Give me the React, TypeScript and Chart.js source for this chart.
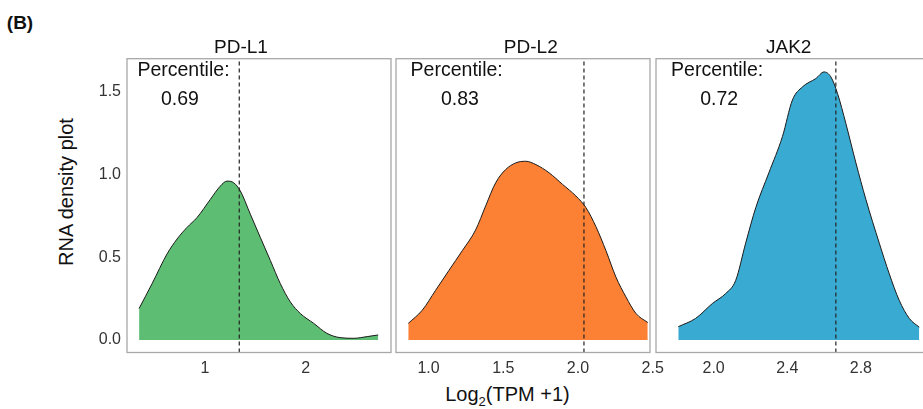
import React, { useEffect, useRef } from 'react';
import { Chart, registerables } from 'chart.js';

Chart.register(...registerables);

// ---------- data ----------
const panelTitles = ['PD-L1', 'PD-L2', 'JAK2'];
const percentileLabel = 'Percentile:';
const percentileValues = ['0.69', '0.83', '0.72'];
const cutoffs = [1.34, 2.04, 2.664];

const pdl1X = [0.345, 0.474, 0.623, 0.722, 0.821, 0.921, 1.053, 1.152, 1.218, 1.285, 1.351, 1.45, 1.549, 1.649, 1.748, 1.847, 1.946, 2.08, 2.21, 2.34, 2.48, 2.61, 2.72];
const pdl1Y = [0.19, 0.34, 0.52, 0.61, 0.68, 0.74, 0.85, 0.93, 0.96, 0.95, 0.9, 0.76, 0.62, 0.48, 0.34, 0.23, 0.16, 0.1, 0.04, 0.014, 0.01, 0.02, 0.03];

const pdl2X = [0.864, 0.958, 1.047, 1.136, 1.226, 1.315, 1.382, 1.449, 1.516, 1.583, 1.65, 1.718, 1.807, 1.897, 1.986, 2.053, 2.12, 2.187, 2.254, 2.321, 2.388, 2.467];
const pdl2Y = [0.1, 0.18, 0.3, 0.42, 0.54, 0.665, 0.81, 0.95, 1.03, 1.07, 1.08, 1.06, 1.01, 0.94, 0.87, 0.8, 0.685, 0.54, 0.38, 0.26, 0.16, 0.105];

const jak2X = [1.808, 1.902, 1.993, 2.065, 2.12, 2.174, 2.229, 2.3, 2.374, 2.428, 2.483, 2.555, 2.6, 2.637, 2.673, 2.718, 2.773, 2.827, 2.9, 2.954, 3.008, 3.063, 3.117];
const jak2Y = [0.08, 0.13, 0.22, 0.28, 0.36, 0.585, 0.8, 1.01, 1.23, 1.45, 1.53, 1.58, 1.62, 1.59, 1.49, 1.31, 1.07, 0.85, 0.585, 0.4, 0.24, 0.13, 0.077];

const yTicks = [0, 0.5, 1.0, 1.5];
const pdl1Ticks = [1, 2];
const pdl1TickLabels = ['1', '2'];
const pdl2Ticks = [1.0, 1.5, 2.0, 2.5];
const pdl2TickLabels = ['1.0', '1.5', '2.0', '2.5'];
const jak2Ticks = [2.0, 2.4, 2.8];
const jak2TickLabels = ['2.0', '2.4', '2.8'];

const yAxisTitle = 'RNA density plot';
const panelTag = '(B)';

// ---------- layout / style ----------
const FONT = '"Liberation Sans", Arial, Helvetica, sans-serif';
const Y_MIN = -0.076;
const Y_MAX = 1.7;
const BOX_TOP = 58.7;
const BOX_BOTTOM = 352.5;
const CANVAS_H = 385;
const TITLE_Y = 47.5;

const panels = [
  {
    xs: pdl1X, ys: pdl1Y, ticks: pdl1Ticks, tickLabels: pdl1TickLabels,
    boxLeft: 127, boxRight: 391, xMin: 0.225, xMax: 2.847, showY: true,
    color: '#5dbe73', titleX: 1.357, labelX: 0.786, valueX: 0.75,
  },
  {
    xs: pdl2X, ys: pdl2Y, ticks: pdl2Ticks, tickLabels: pdl2TickLabels,
    boxLeft: 395.5, boxRight: 649, xMin: 0.782, xMax: 2.482, showY: false,
    color: '#fc8134', titleX: 1.684, labelX: 1.188, valueX: 1.21,
  },
  {
    xs: jak2X, ys: jak2Y, ticks: jak2Ticks, tickLabels: jak2TickLabels,
    boxLeft: 655.5, boxRight: 928, xMin: 1.687, xMax: 3.17, showY: false,
    color: '#39aad1', titleX: 2.408, labelX: 2.019, valueX: 2.03,
  },
];
const LABEL_Y = 1.627;
const VALUE_Y = 1.452;
const Y_AXIS_W = 50;
const PAD_L = 10;
const PAD_R = 30;

function Panel({ index }: { index: number }) {
  const ref = useRef<HTMLCanvasElement | null>(null);
  const p = panels[index];
  const padL = p.showY ? Y_AXIS_W : PAD_L;
  const width = Math.round(padL + (p.boxRight - p.boxLeft) + PAD_R);
  const left = p.boxLeft - padL;

  useEffect(() => {
    if (!ref.current) return;
    const boxPlugin = {
      id: 'boxAndText',
      afterDraw(chart: any) {
        const { ctx, chartArea, scales } = chart;
        ctx.save();
        ctx.strokeStyle = '#a8a8a8';
        ctx.lineWidth = 1.3;
        ctx.strokeRect(chartArea.left, chartArea.top, chartArea.right - chartArea.left, chartArea.bottom - chartArea.top);
        ctx.fillStyle = '#111';
        ctx.textAlign = 'center';
        ctx.textBaseline = 'middle';
        ctx.font = `19px ${FONT}`;
        ctx.fillText(panelTitles[index], scales.x.getPixelForValue(p.titleX), TITLE_Y);
        ctx.font = `19.5px ${FONT}`;
        ctx.fillText(percentileLabel, scales.x.getPixelForValue(p.labelX), scales.y.getPixelForValue(LABEL_Y));
        ctx.fillText(percentileValues[index], scales.x.getPixelForValue(p.valueX), scales.y.getPixelForValue(VALUE_Y));
        ctx.restore();
      },
    };

    const chart = new Chart(ref.current, {
      type: 'line',
      data: {
        datasets: [
          {
            data: [{ x: cutoffs[index], y: Y_MIN }, { x: cutoffs[index], y: Y_MAX }],
            borderColor: '#222',
            borderWidth: 1.2,
            borderDash: [4, 3],
            pointRadius: 0,
            fill: false,
          },
          {
            data: p.xs.map((x, i) => ({ x, y: p.ys[i] })),
            borderColor: '#1a1a1a',
            borderWidth: 1,
            backgroundColor: p.color,
            fill: 'origin',
            pointRadius: 0,
            cubicInterpolationMode: 'monotone',
          },
        ],
      },
      options: {
        responsive: false,
        animation: false,
        devicePixelRatio: 1,
        layout: { padding: { top: BOX_TOP, bottom: 0, left: p.showY ? 0 : PAD_L, right: PAD_R } },
        plugins: { legend: { display: false }, tooltip: { enabled: false }, title: { display: false } },
        scales: {
          x: {
            type: 'linear',
            min: p.xMin,
            max: p.xMax,
            grid: { display: false, drawTicks: false },
            border: { display: false },
            afterBuildTicks: (s: any) => { s.ticks = p.ticks.map((v) => ({ value: v })); },
            afterFit: (s: any) => { s.height = CANVAS_H - BOX_BOTTOM; },
            ticks: {
              autoSkip: false,
              maxRotation: 0,
              padding: 6,
              color: '#333',
              font: { size: 16, family: FONT },
              callback: (v: any) => {
                const i = p.ticks.indexOf(Number(v));
                return i >= 0 ? p.tickLabels[i] : '';
              },
            },
          },
          y: {
            type: 'linear',
            min: Y_MIN,
            max: Y_MAX,
            display: p.showY,
            grid: { display: false, drawTicks: false },
            border: { display: false },
            afterBuildTicks: (s: any) => { s.ticks = yTicks.map((v) => ({ value: v })); },
            afterFit: (s: any) => { s.width = p.showY ? Y_AXIS_W : 0; },
            ticks: {
              padding: 6,
              color: '#333',
              font: { size: 16, family: FONT },
              callback: (v: any) => Number(v).toFixed(1),
            },
          },
        },
      },
      plugins: [boxPlugin],
    } as any);
    return () => chart.destroy();
  }, [index]);

  return (
    <canvas
      ref={ref}
      width={width}
      height={CANVAS_H}
      style={{ position: 'absolute', left, top: 0, width, height: CANVAS_H }}
    />
  );
}

export default function App() {
  return (
    <div
      style={{
        position: 'fixed', left: 0, top: 0, width: 923, height: 409, overflow: 'hidden',
        background: '#fff', fontFamily: FONT, color: '#111',
      }}
    >
      <div style={{ position: 'absolute', left: 20, top: 22, transform: 'translate(-50%,-50%)', fontWeight: 'bold', fontSize: 19, lineHeight: 1 }}>
        {panelTag}
      </div>
      <div
        style={{
          position: 'absolute', left: 65.5, top: 191.7, transform: 'translate(-50%,-50%) rotate(-90deg)',
          fontSize: 20, lineHeight: 1, whiteSpace: 'nowrap',
        }}
      >
        {yAxisTitle}
      </div>
      <div
        style={{
          position: 'absolute', left: 507.5, top: 394, transform: 'translate(-50%,-50%)',
          fontSize: 20, lineHeight: 1, whiteSpace: 'nowrap',
        }}
      >
        Log<sub style={{ fontSize: 13, verticalAlign: 'baseline', position: 'relative', top: 5 }}>2</sub>(TPM +1)
      </div>
      {panels.map((_, i) => (
        <Panel key={i} index={i} />
      ))}
    </div>
  );
}
